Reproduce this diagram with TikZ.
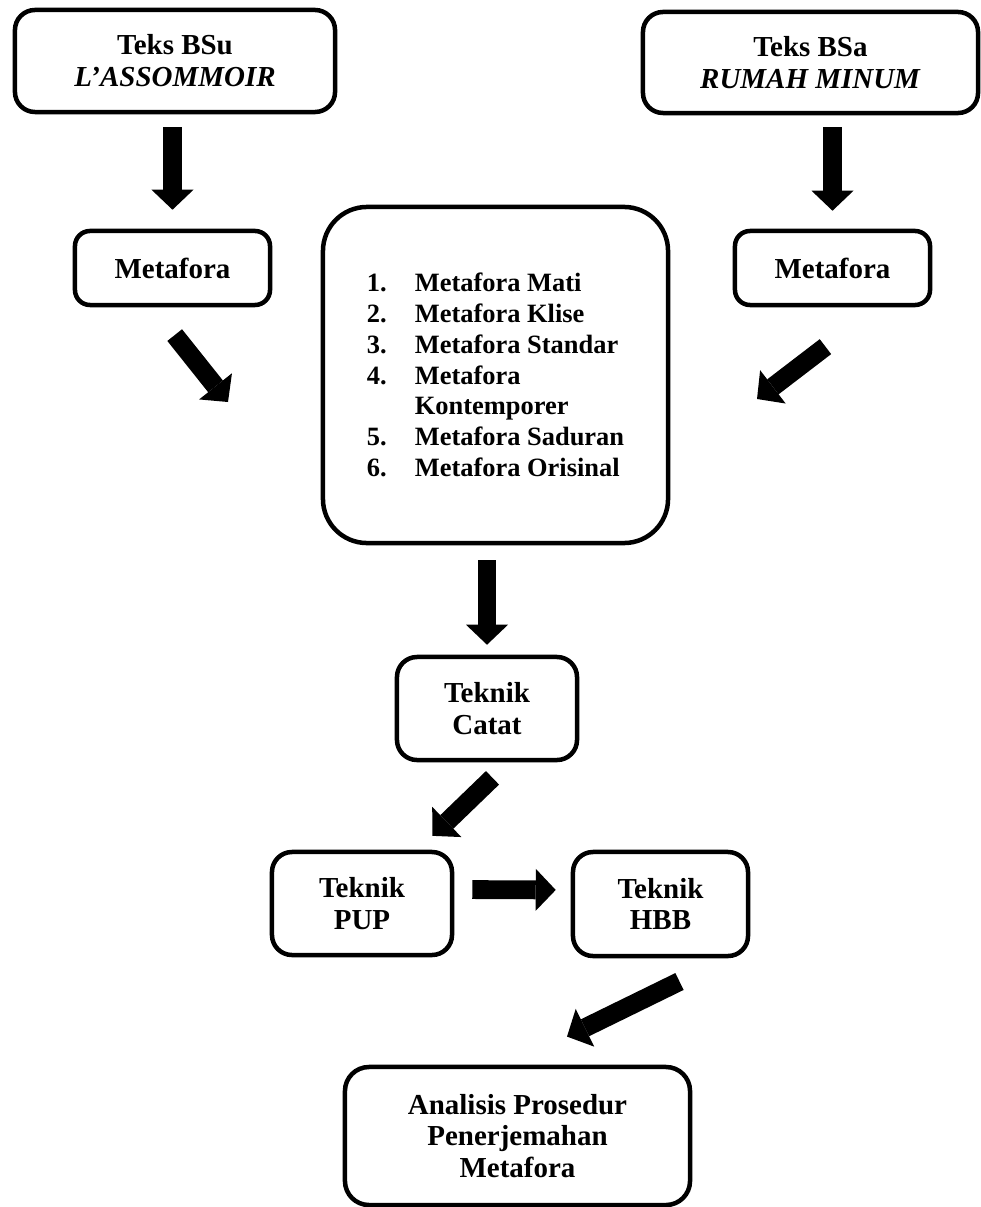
\documentclass[tikz,border=0pt]{standalone}
\usepackage{fontspec}
\setmainfont{Liberation Serif}
\usepackage{tikz}
\usetikzlibrary{arrows.meta}

\begin{document}
\begin{tikzpicture}[
    x=0.025cm, y=-0.025cm,
    box/.style={draw, line width=0.1125cm, rounded corners=0.5cm, align=center, inner sep=0pt,
        font=\fontsize{20.6}{22.7}\selectfont\bfseries},
    bigarrow/.style={line width=0.47cm, -{Triangle[width=1.05cm, length=0.5cm, line width=0pt]}}
]
\useasboundingbox (0,0) rectangle (980,1207);

% kotak sumber
\node[box, minimum width=8cm, minimum height=2.55cm] (bsu) at (175,61) {Teks BSu\\\textit{L'ASSOMMOIR}};
\node[box, minimum width=8.375cm, minimum height=2.525cm] (bsa) at (810.5,62.5) {Teks BSa\\\textit{RUMAH MINUM}};
\node[box, rounded corners=0.375cm, minimum width=4.875cm, minimum height=1.85cm] (metl) at (172.5,268) {Metafora};
\node[box, rounded corners=0.375cm, minimum width=4.875cm, minimum height=1.85cm] (metr) at (832.5,268) {Metafora};

% jenis metafora
\node[box, rounded corners=1.1cm, minimum width=8.625cm, minimum height=8.4cm, align=left,
    font=\fontsize{18.8}{21.9}\selectfont\bfseries] (jenis) at (495.5,375)
    {\makebox[1.2cm][l]{1.}Metafora Mati\\
     \makebox[1.2cm][l]{2.}Metafora Klise\\
     \makebox[1.2cm][l]{3.}Metafora Standar\\
     \makebox[1.2cm][l]{4.}Metafora\\
     \hspace*{1.2cm}Kontemporer\\
     \makebox[1.2cm][l]{5.}Metafora Saduran\\
     \makebox[1.2cm][l]{6.}Metafora Orisinal};

% teknik
\node[box, minimum width=4.5cm, minimum height=2.575cm] (catat) at (487,708.5) {Teknik\\Catat};
\node[box, minimum width=4.5cm, minimum height=2.575cm] (pup) at (362,903.5) {Teknik\\PUP};
\node[box, minimum width=4.375cm, minimum height=2.6cm] (hbb) at (660.5,904) {Teknik\\HBB};
\node[box, rounded corners=0.6cm, minimum width=8.625cm, minimum height=3.45cm] (analisis) at (517.5,1136)
    {Analisis Prosedur\\Penerjemahan\\Metafora};

\coordinate (masukl) at (228,402);
\coordinate (masukr) at (757,399);

% panah
\draw[bigarrow, shorten <=0.325cm, shorten >=0.475cm] (bsu.south -| metl.north) -- (metl.north);
\draw[bigarrow, shorten <=0.3cm, shorten >=0.45cm] (bsa.south -| metr.north) -- (metr.north);
\draw[bigarrow, shorten <=0.89cm] ([xshift=-0.5cm]metl.south) -- (masukl);
\draw[bigarrow, shorten <=1.62cm] ([xshift=1.11cm]metr.south) -- (masukr);
\draw[bigarrow, shorten <=0.375cm, shorten >=0.25cm] (jenis.south -| catat.north) -- (catat.north);
\draw[bigarrow, shorten <=0.56cm, shorten >=0.5cm] ([xshift=0.54cm]catat.south) -- ([xshift=1.4cm]pup.north);
\draw[bigarrow, shorten <=0.45cm, shorten >=0.375cm] ([yshift=0.35cm]pup.east) -- ([yshift=0.35cm]hbb.west);
\draw[bigarrow, shorten <=1.32cm, shorten >=1.6cm] ([xshift=1.66cm]hbb.south) -- ([xshift=-0.2cm]analisis.north);
\end{tikzpicture}
\end{document}
